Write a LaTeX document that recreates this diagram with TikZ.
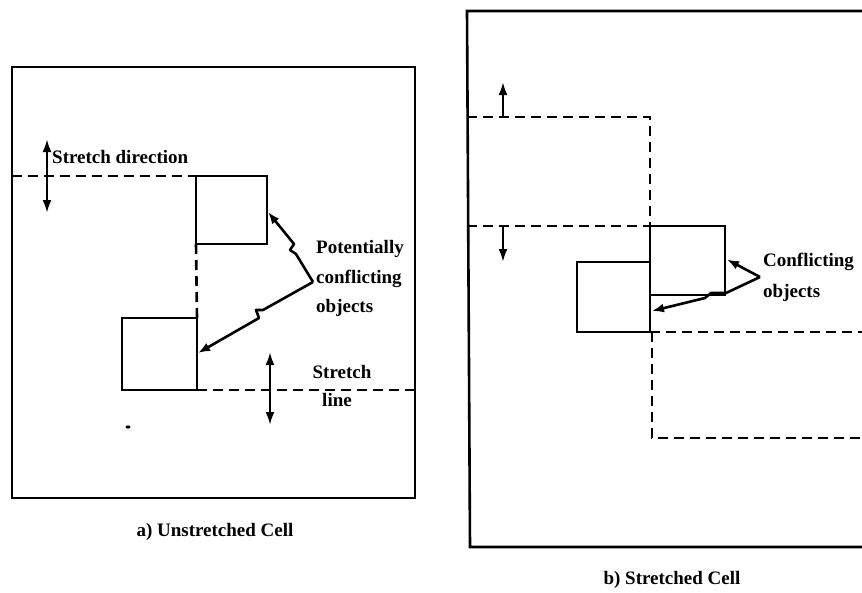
\documentclass[tikz,border=0pt]{standalone}
\usepackage{fontspec}
\setmainfont{Liberation Serif}
\usetikzlibrary{arrows.meta,calc}
\tikzset{
  frame/.style={line width=2.6pt},
  obj/.style={draw,line width=2.6pt,inner sep=0pt,outer sep=0pt,fill=none},
  dashline/.style={line width=2.6pt,dash pattern=on 10pt off 6pt},
  dirarrow/.style={line width=2.4pt,{Latex[length=13pt,width=9pt]}-{Latex[length=13pt,width=9pt]}},
  onearrow/.style={line width=2.4pt,-{Latex[length=13pt,width=9pt]}},
  ptr/.style={line width=2.6pt,line join=round,-{Latex[length=12pt,width=9pt]}},
  lbl/.style={font=\bfseries\fontsize{19}{20}\selectfont,inner sep=0pt},
}
\begin{document}
\begin{tikzpicture}[x=1pt,y=-1pt]
\useasboundingbox (0,0) rectangle (862,592);
% ---------- a) Unstretched cell ----------
\draw[frame] (12,67) rectangle (415,498);
\node[obj,minimum width=71pt,minimum height=68pt] (sqU) at (231.5,210) {};
\node[obj,minimum width=75pt,minimum height=72pt] (sqL) at (159.5,354) {};
\draw[dashline] (12,176) -- (sqU.north west);
\draw[dashline] (sqU.south west) -- (sqL.north east);
\draw[dashline] (sqL.south east) -- (415,390);
\coordinate (d1a) at (47,139); \coordinate (d1b) at (47,213);
\draw[dirarrow] (d1a) -- (d1b);
\coordinate (d2a) at (270,352); \coordinate (d2b) at (270,425);
\draw[dirarrow] (d2a) -- (d2b);
\node[lbl,anchor=west] (sd) at (52,157) {Stretch direction};
\node[lbl,anchor=west] (pot1) at (316,249) {Potentially};
\node[lbl,anchor=west] (pot2) at (316,279) {conflicting};
\node[lbl,anchor=west] (pot3) at (316,308) {objects};
\coordinate (apexA) at (313,282);
\draw[ptr] (apexA) -- (296,254) -- (290,250) -- (294,244) -- ($(sqU.east)+(1,2)$);
\draw[ptr] (apexA) -- (263,310) -- (256,310) -- (259,318) -- ($(sqL.east)+(1,-1)$);
\node[lbl] (sl1) at (342,372) {Stretch};
\node[lbl] (sl2) at (337,400) {line};
\fill (128,427) ellipse (2.5pt and 1.6pt);
\node[lbl] (capa) at (215,532) {a) Unstretched Cell};
% ---------- b) Stretched cell ----------
\draw[frame] (862,11) -- (467,11) -- (470,547) -- (862,547);
\node[obj,minimum width=75pt,minimum height=69pt] (rU) at (687.5,260.5) {};
\node[obj,minimum width=73pt,minimum height=70pt] (rL) at (613.5,297) {};
\draw[dashline] (467,117) -- (650,117) -- (rU.north west);
\draw[dashline] (467,226) -- (rU.north west);
\draw[dashline] (rL.south east) -- (862,332);
\draw[dashline] ($(rL.south east)+(2,0)$) -- (652,438) -- (862,438);
\coordinate (u1) at (503,117); \coordinate (u2) at (503,82);
\draw[onearrow] (u1) -- (u2);
\coordinate (w1) at (503,226); \coordinate (w2) at (503,262);
\draw[onearrow] (w1) -- (w2);
\node[lbl,anchor=west] (cf1) at (763,262) {Conflicting};
\node[lbl,anchor=west] (cf2) at (763,293) {objects};
\coordinate (apexB) at (760,277);
\draw[ptr] (apexB) -- ($(rU.east)+(2,-1)$);
\draw[ptr] (apexB) -- (726,293) -- (711,293) -- (705,298) -- ($(rL.east)+(2,14)$);
\node[lbl] (capb) at (672,580) {b) Stretched Cell};
\end{tikzpicture}
\end{document}
